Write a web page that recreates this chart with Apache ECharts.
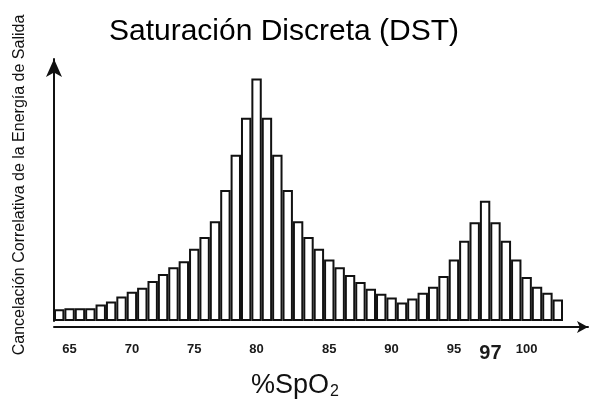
<!DOCTYPE html>
<html>
<head>
<meta charset="utf-8">
<script src="https://cdn.jsdelivr.net/npm/echarts@6/dist/echarts.min.js"></script>
<style>
  html, body { margin: 0; padding: 0; background: #fff; }
  #chart { width: 593px; height: 405px; }
</style>
</head>
<body>
<div id="chart"></div>
<script>
// Histogram bins (one bar per bin); most bins have no tick label
const categories = [
  '', '65', '', '', '', '', '', '70', '', '', '', '', '', '75', '', '', '', '', '', '80',
  '', '', '', '', '', '', '85', '', '', '', '', '', '90', '', '', '', '', '', '95', '',
  '', '', '97', '', '', '100', '', '', ''
];
// Relative output-energy values (arbitrary units)
const values = [
  12, 13, 13, 13, 17, 20, 25, 30, 34, 41,
  48, 55, 61, 74, 86, 102, 134, 170, 208, 248,
  208, 170, 134, 102, 86, 74, 63, 55, 47, 40,
  33, 28, 24, 19, 23, 29, 35, 46, 63, 82,
  101, 123, 101, 82, 63, 45, 35, 29, 22
];
const chartTitle = 'Saturación Discreta (DST)';
const yName = 'Cancelación Correlativa de la Energía de Salida';
const xNameMain = '%SpO';
const xNameSub = '2';

const FONT = '"Liberation Sans", Arial, Helvetica, sans-serif';
const chart = echarts.init(document.getElementById('chart'), null, { renderer: 'canvas' });

chart.setOption({
  animation: false,
  backgroundColor: '#ffffff',
  title: {
    text: chartTitle,
    left: 279,
    textAlign: 'center',
    top: 12,
    textStyle: { fontFamily: FONT, fontSize: 30, fontWeight: 'normal', color: '#000' }
  },
  grid: [
    { left: 54, width: 509, top: 59, bottom: 78, containLabel: false },
    { left: 54, right: 5, top: 59, bottom: 78, containLabel: false }
  ],
  xAxis: [
    {
      type: 'category',
      gridIndex: 0,
      data: categories,
      boundaryGap: true,
      axisLine: { show: false },
      axisTick: { show: false },
      axisLabel: {
        interval: 0,
        margin: 22,
        fontFamily: FONT,
        fontSize: 13,
        fontWeight: 'bold',
        color: '#1a1a1a',
        formatter: function (v) { return v === '97' ? '{big|' + v + '}' : v; },
        rich: {
          big: { fontFamily: FONT, fontSize: 20, fontWeight: 'bold', color: '#1a1a1a', padding: [0, 10, 0, 0] }
        }
      },
      name: '{a|' + xNameMain + '}{b|' + xNameSub + '}',
      nameLocation: 'middle',
      nameGap: 50,
      nameTextStyle: {
        padding: [0, 27, 0, 0],
        rich: {
          a: { fontFamily: FONT, fontSize: 27, color: '#111' },
          b: { fontFamily: FONT, fontSize: 16, color: '#111', padding: [13, 0, 0, 1] }
        }
      }
    },
    {
      type: 'value',
      gridIndex: 1,
      min: 0,
      max: 1,
      axisLine: {
        show: true,
        onZero: false,
        lineStyle: { color: '#111', width: 2 },
        symbol: ['none', 'arrow'],
        symbolSize: [9, 11]
      },
      axisTick: { show: false },
      axisLabel: { show: false },
      splitLine: { show: false }
    }
  ],
  yAxis: [
    {
      type: 'value',
      gridIndex: 0,
      min: 0,
      max: 268,
      axisLine: {
        show: true,
        lineStyle: { color: '#111', width: 2 },
        symbol: ['none', 'arrow'],
        symbolSize: [12, 18]
      },
      axisTick: { show: false },
      axisLabel: { show: false },
      splitLine: { show: false },
      name: yName,
      nameLocation: 'middle',
      nameRotate: 90,
      nameGap: 26,
      nameTextStyle: { fontFamily: FONT, fontSize: 16, color: '#111', padding: [0, 0, 0, 10] }
    },
    {
      type: 'value',
      gridIndex: 1,
      show: false,
      min: 0,
      max: 1
    }
  ],
  series: [
    {
      type: 'bar',
      xAxisIndex: 0,
      yAxisIndex: 0,
      data: values,
      barCategoryGap: '0%',
      itemStyle: { color: '#ffffff', borderColor: '#111', borderWidth: 2 },
      emphasis: { disabled: true }
    }
  ]
});
</script>
</body>
</html>
